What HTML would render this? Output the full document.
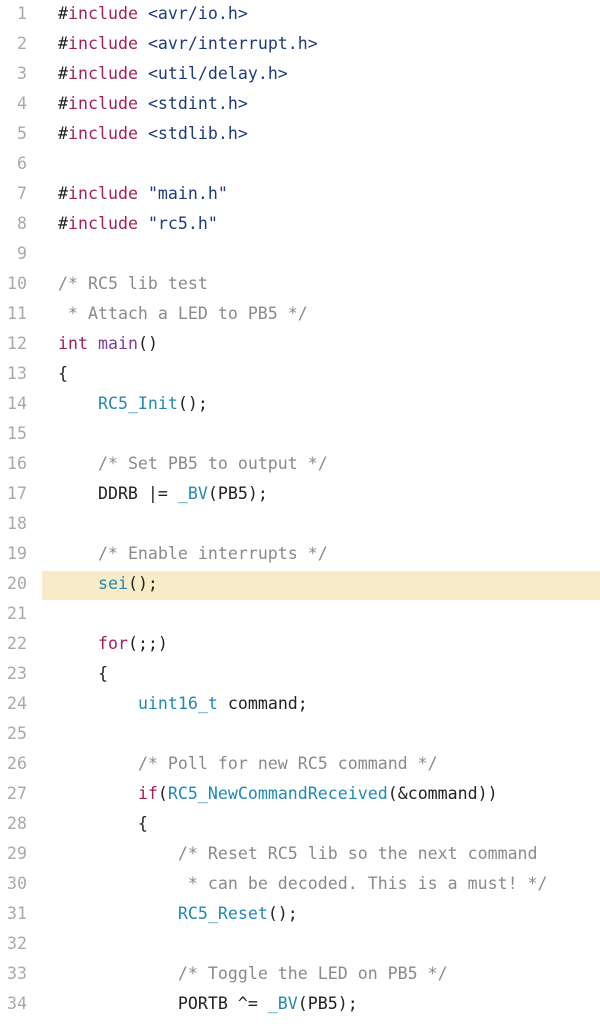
<!DOCTYPE html>
<html><head><meta charset="utf-8"><style>
html,body{margin:0;padding:0;background:#fff;width:600px;height:1030px;overflow:hidden}
body{position:relative;font-family:"DejaVu Sans Mono","Liberation Mono",monospace;font-size:16.6px;color:#222}
.l{position:absolute;left:0;width:600px;height:30px;line-height:30px;white-space:pre}
.n{position:absolute;left:0;width:27px;text-align:right;color:#a8a8a8}
.c{position:absolute;left:58px}
.hl{position:absolute;left:42px;width:558px;top:571px;height:29px;background:#f8ecc8}
.k{color:#a3205a}.s{color:#1f3a7a}.f{color:#2389b0}.m{color:#7a3e9d}.cm{color:#8a8a8a}
</style></head><body>
<div class="hl"></div>
<div class="l" style="top:-1px"><span class="n">1</span><span class="c">#<span class="k">include</span> <span class="s">&lt;avr/io.h&gt;</span></span></div>
<div class="l" style="top:29px"><span class="n">2</span><span class="c">#<span class="k">include</span> <span class="s">&lt;avr/interrupt.h&gt;</span></span></div>
<div class="l" style="top:59px"><span class="n">3</span><span class="c">#<span class="k">include</span> <span class="s">&lt;util/delay.h&gt;</span></span></div>
<div class="l" style="top:89px"><span class="n">4</span><span class="c">#<span class="k">include</span> <span class="s">&lt;stdint.h&gt;</span></span></div>
<div class="l" style="top:119px"><span class="n">5</span><span class="c">#<span class="k">include</span> <span class="s">&lt;stdlib.h&gt;</span></span></div>
<div class="l" style="top:149px"><span class="n">6</span></div>
<div class="l" style="top:179px"><span class="n">7</span><span class="c">#<span class="k">include</span> <span class="s">"main.h"</span></span></div>
<div class="l" style="top:209px"><span class="n">8</span><span class="c">#<span class="k">include</span> <span class="s">"rc5.h"</span></span></div>
<div class="l" style="top:239px"><span class="n">9</span></div>
<div class="l" style="top:269px"><span class="n">10</span><span class="c cm">/* RC5 lib test</span></div>
<div class="l" style="top:299px"><span class="n">11</span><span class="c cm"> * Attach a LED to PB5 */</span></div>
<div class="l" style="top:329px"><span class="n">12</span><span class="c"><span class="k">int</span> <span class="m">main</span>()</span></div>
<div class="l" style="top:359px"><span class="n">13</span><span class="c">{</span></div>
<div class="l" style="top:389px"><span class="n">14</span><span class="c">    <span class="f">RC5_Init</span>();</span></div>
<div class="l" style="top:419px"><span class="n">15</span></div>
<div class="l" style="top:449px"><span class="n">16</span><span class="c">    <span class="cm">/* Set PB5 to output */</span></span></div>
<div class="l" style="top:479px"><span class="n">17</span><span class="c">    DDRB |= <span class="f">_BV</span>(PB5);</span></div>
<div class="l" style="top:509px"><span class="n">18</span></div>
<div class="l" style="top:539px"><span class="n">19</span><span class="c">    <span class="cm">/* Enable interrupts */</span></span></div>
<div class="l" style="top:569px"><span class="n">20</span><span class="c">    <span class="f">sei</span>();</span></div>
<div class="l" style="top:599px"><span class="n">21</span></div>
<div class="l" style="top:629px"><span class="n">22</span><span class="c">    <span class="k">for</span>(;;)</span></div>
<div class="l" style="top:659px"><span class="n">23</span><span class="c">    {</span></div>
<div class="l" style="top:689px"><span class="n">24</span><span class="c">        <span class="f">uint16_t</span> command;</span></div>
<div class="l" style="top:719px"><span class="n">25</span></div>
<div class="l" style="top:749px"><span class="n">26</span><span class="c">        <span class="cm">/* Poll for new RC5 command */</span></span></div>
<div class="l" style="top:779px"><span class="n">27</span><span class="c">        <span class="k">if</span>(<span class="f">RC5_NewCommandReceived</span>(&amp;command))</span></div>
<div class="l" style="top:809px"><span class="n">28</span><span class="c">        {</span></div>
<div class="l" style="top:839px"><span class="n">29</span><span class="c">            <span class="cm">/* Reset RC5 lib so the next command</span></span></div>
<div class="l" style="top:869px"><span class="n">30</span><span class="c">            <span class="cm"> * can be decoded. This is a must! */</span></span></div>
<div class="l" style="top:899px"><span class="n">31</span><span class="c">            <span class="f">RC5_Reset</span>();</span></div>
<div class="l" style="top:929px"><span class="n">32</span></div>
<div class="l" style="top:959px"><span class="n">33</span><span class="c">            <span class="cm">/* Toggle the LED on PB5 */</span></span></div>
<div class="l" style="top:989px"><span class="n">34</span><span class="c">            PORTB ^= <span class="f">_BV</span>(PB5);</span></div>
</body></html>
